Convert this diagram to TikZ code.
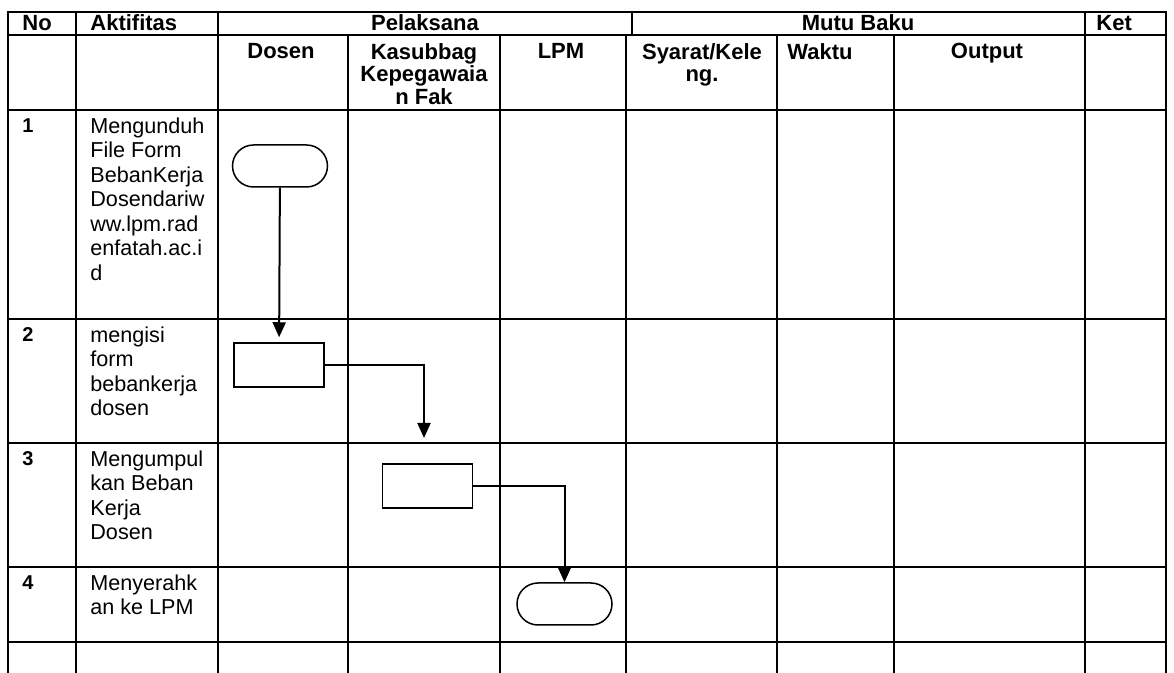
\documentclass[tikz,border=0pt]{standalone}
\usepackage{fontspec}
\setmainfont{Liberation Sans}
\usepackage{tikz}
\usetikzlibrary{arrows.meta}
\newcommand{\hdfont}{\fontsize{11}{11.2}\selectfont\bfseries}
\newcommand{\txfont}{\fontsize{10.8}{12.25}\selectfont}
\newcommand{\nofont}{\fontsize{10}{11}\selectfont\bfseries}

\begin{document}
\begin{tikzpicture}[
    x=0.5pt, y=-0.5pt,
    grid/.style={line width=1pt, line cap=rect},
    hd/.style={inner sep=0pt, anchor=north, align=center, font=\hdfont},
    htop/.style={inner sep=0pt, anchor=base, font=\hdfont},
    num/.style={inner sep=0pt, anchor=north west, font=\nofont},
    akt/.style={inner sep=0pt, anchor=north west, align=left, font=\txfont},
    term/.style={rectangle, rounded corners=10.5pt, draw, line width=0.75pt,
        minimum width=47.5pt, minimum height=21pt},
    proc/.style={rectangle, draw, line width=0.75pt,
        minimum width=45pt, minimum height=22pt},
    arr/.style={-{Triangle[length=7.5pt, width=6.5pt]}, line width=1pt}
]
\useasboundingbox (0,0) rectangle (1174,673);

% table rules
\foreach \y in {12,35,110,319,443,567,642}
    \draw[grid] (8,\y) -- (1166,\y);
\foreach \x in {8,76,218,1085,1166}
    \draw[grid] (\x,12) -- (\x,673);
\draw[grid] (632,12) -- (632,35);
\foreach \x in {348,500,626,777,894}
    \draw[grid] (\x,35) -- (\x,673);

% header
\node[htop, anchor=base west] (hno) at (22,31) {No};
\node[htop, anchor=base west] (hakt) at (90,31) {Aktifitas};
\node[htop] (hpel) at (425,31) {Pelaksana};
\node[htop] (hmutu) at (858,31) {Mutu Baku};
\node[htop, anchor=base west] (hket) at (1096,31) {Ket};
\node[hd] (hdos) at (281,43) {Dosen};
\node[hd] (hkas) at (424,43) {Kasubbag\\Kepegawaia\\n Fak};
\node[hd] (hlpm) at (561,43) {LPM};
\node[hd] (hsya) at (702,43) {Syarat/Kele\\ng.};
\node[hd] (hwak) at (820,43) {Waktu};
\node[hd] (hout) at (987,43) {Output};

% rows
\node[num] (n1) at (22,118) {1};
\node[akt] (a1) at (90,117) {Mengunduh\\File Form\\BebanKerja\\Dosendariw\\ww.lpm.rad\\enfatah.ac.i\\d};
\node[num] (n2) at (22,327) {2};
\node[akt] (a2) at (90,326) {mengisi\\form\\bebankerja\\dosen};
\node[num] (n3) at (22,451) {3};
\node[akt] (a3) at (90,450) {Mengumpul\\kan Beban\\Kerja\\Dosen};
\node[num] (n4) at (22,575) {4};
\node[akt] (a4) at (90,574) {Menyerahk\\an ke LPM};

% flow
\node[term] (mulai) at (280,166) {};
\node[proc] (isi) at (279,365) {};
\node[proc] (kumpul) at (427.5,486) {};
\node[term] (serah) at (564.5,604) {};
\coordinate (ujung) at (424,438);

\draw[arr, shorten >=2.5pt] (mulai) -- (isi);
\draw[arr] (isi.east) -| (ujung);
\draw[arr] (kumpul.east) -| (serah.north);
\end{tikzpicture}
\end{document}
